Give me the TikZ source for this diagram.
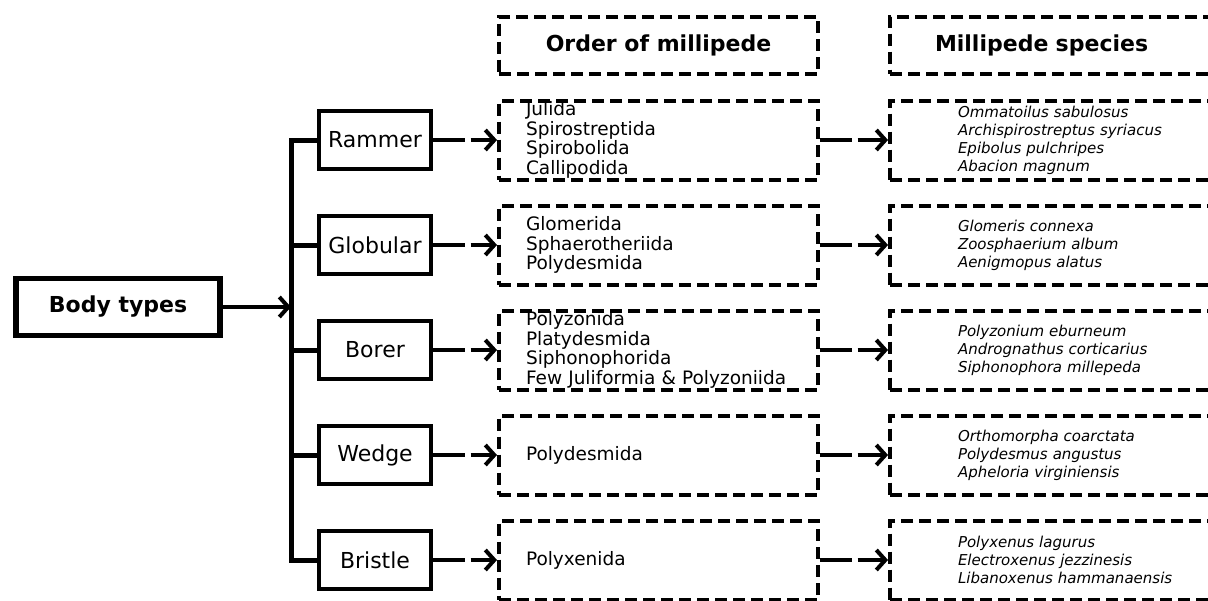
\documentclass[tikz,border=0pt]{standalone}
\usepackage{fontspec}
\setmainfont{DejaVu Sans}
\usetikzlibrary{arrows.meta,positioning}

\begin{document}
\begin{tikzpicture}[->,>={Straight Barb[length=9pt,width=20pt]},line width=4pt,
            x=1pt,y=-1pt,node distance=43pt]
            \tikzstyle{typebox}=[draw,line width=4pt,minimum width=112pt,minimum height=58pt,
                font=\fontsize{22}{26}\selectfont]
            \tikzstyle{headbox}=[draw,dash pattern=on 12pt off 6pt,line width=4pt,
                minimum width=319pt,minimum height=57pt,font=\fontsize{22}{26}\selectfont\bfseries]
            \tikzstyle{orderbox}=[draw,dash pattern=on 12pt off 6pt,line width=4pt,
                minimum height=79pt,inner ysep=0pt,inner xsep=27pt,text width=265pt,align=left,
                font=\fontsize{18.5}{19.5}\selectfont]
            \tikzstyle{speciesbox}=[orderbox,inner xsep=68pt,text width=250pt,
                font=\fontsize{15}{18}\selectfont\itshape]
            \tikzstyle{dasharrow}=[dash pattern=on 32pt off 5.5pt]

            \useasboundingbox (0,0) rectangle (1208,600);

            % body types and the five kinds
            \node[typebox,line width=5.5pt,minimum width=204pt,minimum height=57pt,
                font=\fontsize{22}{26}\selectfont\bfseries] (body) at (118,307) {Body types};
            \coordinate (jn) at (291,307);
            \node[typebox] (rammer) at (375,140) {Rammer};
            \node[typebox] (globular) [below=of rammer] {Globular};
            \node[typebox] (borer) [below=of globular] {Borer};
            \node[typebox] (wedge) [below=of borer] {Wedge};
            \node[typebox] (bristle) [below=of wedge] {Bristle};

            % orders
            \node[orderbox] (o_rammer) [right=64pt of rammer] {Julida\\Spirostreptida\\Spirobolida\\Callipodida};
            \node[orderbox] (o_globular) [right=64pt of globular] {Glomerida\\Sphaerotheriida\\Polydesmida};
            \node[orderbox] (o_borer) [right=64pt of borer] {Polyzonida\\Platydesmida\\Siphonophorida\\Few Juliformia \& Polyzoniida};
            \node[orderbox] (o_wedge) [right=64pt of wedge] {Polydesmida};
            \node[orderbox] (o_bristle) [right=64pt of bristle] {Polyxenida};

            % species
            \node[speciesbox] (s_rammer) [right=68pt of o_rammer] {Ommatoilus sabulosus\\Archispirostreptus syriacus\\Epibolus pulchripes\\Abacion magnum};
            \node[speciesbox] (s_globular) [right=68pt of o_globular] {Glomeris connexa\\Zoosphaerium album\\Aenigmopus alatus};
            \node[speciesbox] (s_borer) [right=68pt of o_borer] {Polyzonium eburneum\\Andrognathus corticarius\\Siphonophora millepeda};
            \node[speciesbox] (s_wedge) [right=68pt of o_wedge] {Orthomorpha coarctata\\Polydesmus angustus\\Apheloria virginiensis};
            \node[speciesbox] (s_bristle) [right=68pt of o_bristle] {Polyxenus lagurus\\Electroxenus jezzinesis\\Libanoxenus hammanaensis};

            % headings
            \node[headbox] (h_order) [above=23pt of o_rammer] {Order of millipede};
            \node[headbox,inner xsep=45pt,text width=296pt,align=left] (h_species) [above=23pt of s_rammer] {Millipede species};

            % tree
            \draw (body) -- (jn);
            \draw[-,line width=5pt] (rammer.west) -| (jn) |- (bristle.west);
            \foreach \t in {globular,borer,wedge}
                \draw[-,line width=5pt] (\t.west) -- (\t.west -| jn);

            % arrows
            \foreach \t in {rammer,globular,borer,wedge,bristle}
            {
                \draw[dasharrow] (\t) -- (o_\t);
                \draw[dasharrow] (o_\t) -- (s_\t);
            }
\end{tikzpicture}
\end{document}
